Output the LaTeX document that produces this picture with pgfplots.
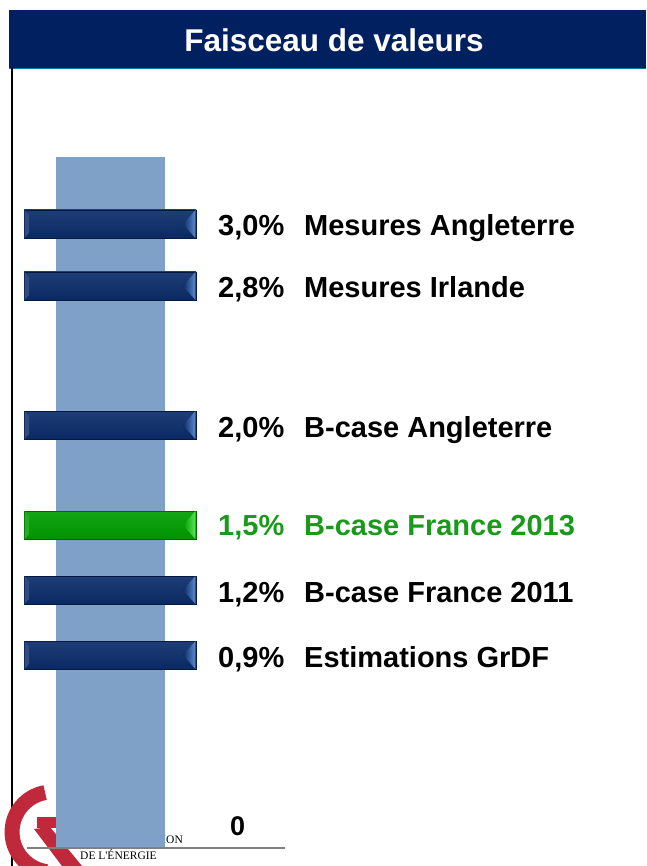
\documentclass[border=0pt]{standalone}
\usepackage{pgfplots}
\pgfplotsset{compat=1.18}
\usepackage{fontspec}
\setmainfont{Liberation Sans}
\newfontfamily\seriffont{Liberation Serif}
\definecolor{navy}{HTML}{002060}
\definecolor{lightbar}{HTML}{7FA1C8}
\definecolor{mk}{HTML}{0B2D6B}
\definecolor{mkdark}{HTML}{041A42}
\definecolor{mklight}{HTML}{5E8AC8}
\definecolor{gk}{HTML}{009E00}
\definecolor{gkdark}{HTML}{006400}
\definecolor{gklight}{HTML}{5AE55A}
\definecolor{gtext}{HTML}{1A9A1A}
\definecolor{cre}{HTML}{C0283C}
\newcommand{\marker}[4]{%
  \pgfmathsetmacro\mT{#1-14}\pgfmathsetmacro\mB{#1+14}%
  \pgfmathsetmacro\mTi{#1-9}\pgfmathsetmacro\mBi{#1+9}%
  \addplot[draw=#3, line width=0.8pt, top color=#2!92!white, middle color=#2, bottom color=#2!80!#3]
    coordinates {(24,\mT) (196,\mT) (196,\mB) (24,\mB)} -- cycle;
  \addplot[draw=none, fill=#2!85!white]
    coordinates {(24.6,\mT) (29,\mTi) (29,\mBi) (24.6,\mB)} -- cycle;
  \addplot[draw=none, left color=#2, right color=#4]
    coordinates {(195.4,\mT) (195.4,\mB) (183,#1)} -- cycle;
}
\newcommand{\lab}[4]{%
  \node[anchor=base west, inner sep=0, text=#4, font=\fontsize{29}{34}\selectfont\bfseries] at (axis cs:218,#1) {#2};
  \node[anchor=base west, inner sep=0, text=#4, font=\fontsize{29}{34}\selectfont\bfseries] at (axis cs:304,#1) {#3};
}
\begin{document}
\begin{tikzpicture}
\begin{axis}[
  name=ax,
  scale only axis, width=646pt, height=866pt,
  xmin=0, xmax=646, ymin=0, ymax=866, y dir=reverse,
  hide axis, clip=true,
]
% title band
\addplot[fill=navy, draw=none] coordinates {(9,10) (646,10) (646,68) (9,68)} -- cycle;
\addplot[draw=navy!60!cyan, line width=0.8pt] coordinates {(9,68) (646,68)};
\node[anchor=base, inner sep=0, text=white, font=\fontsize{31.5}{36}\selectfont\bfseries] at (axis cs:334,52) {Faisceau de valeurs};
% left frame line
\addplot[black, line width=2pt] coordinates {(12,68) (12,866)};
% logo (decoration)
\draw[cre, line width=15pt] (axis cs:45.1,792.6) arc[start angle=100, end angle=262, radius=40pt];
\fill[cre] (axis cs:37,817) -- (axis cs:60,817) -- (axis cs:60,828) -- (axis cs:37,828) -- cycle;
\fill[cre] (axis cs:34,829) -- (axis cs:50,827) -- (axis cs:82,866) -- (axis cs:62,866) -- cycle;
\node[anchor=base east, inner sep=0, font=\seriffont\fontsize{11.5}{13}\selectfont] at (axis cs:183,843) {RÉGULATION};
\node[anchor=base west, inner sep=0, font=\seriffont\fontsize{11.5}{13}\selectfont] at (axis cs:80,859) {DE L'ÉNERGIE};
% light blue column
\addplot[fill=lightbar, draw=none] coordinates {(56,157) (165,157) (165,848) (56,848)} -- cycle;
% baseline
\addplot[gray, line width=2pt] coordinates {(27,848) (285,848)};
\node[anchor=base west, inner sep=0, font=\fontsize{27}{32}\selectfont\bfseries] at (axis cs:230,835) {0};
% markers
\marker{224}{mk}{mkdark}{mklight}
\marker{286}{mk}{mkdark}{mklight}
\marker{425}{mk}{mkdark}{mklight}
\marker{525}{gk}{gkdark}{gklight}
\marker{590}{mk}{mkdark}{mklight}
\marker{655}{mk}{mkdark}{mklight}
% labels
\lab{236}{3,0\%}{Mesures Angleterre}{black}
\lab{298}{2,8\%}{Mesures Irlande}{black}
\lab{437}{2,0\%}{B-case Angleterre}{black}
\lab{535}{1,5\%}{B-case France 2013}{gtext}
\lab{602}{1,2\%}{B-case France 2011}{black}
\lab{667}{0,9\%}{Estimations GrDF}{black}
\end{axis}
\pgfresetboundingbox
\path[use as bounding box] (ax.south west) rectangle (ax.north east);
\end{tikzpicture}
\end{document}
